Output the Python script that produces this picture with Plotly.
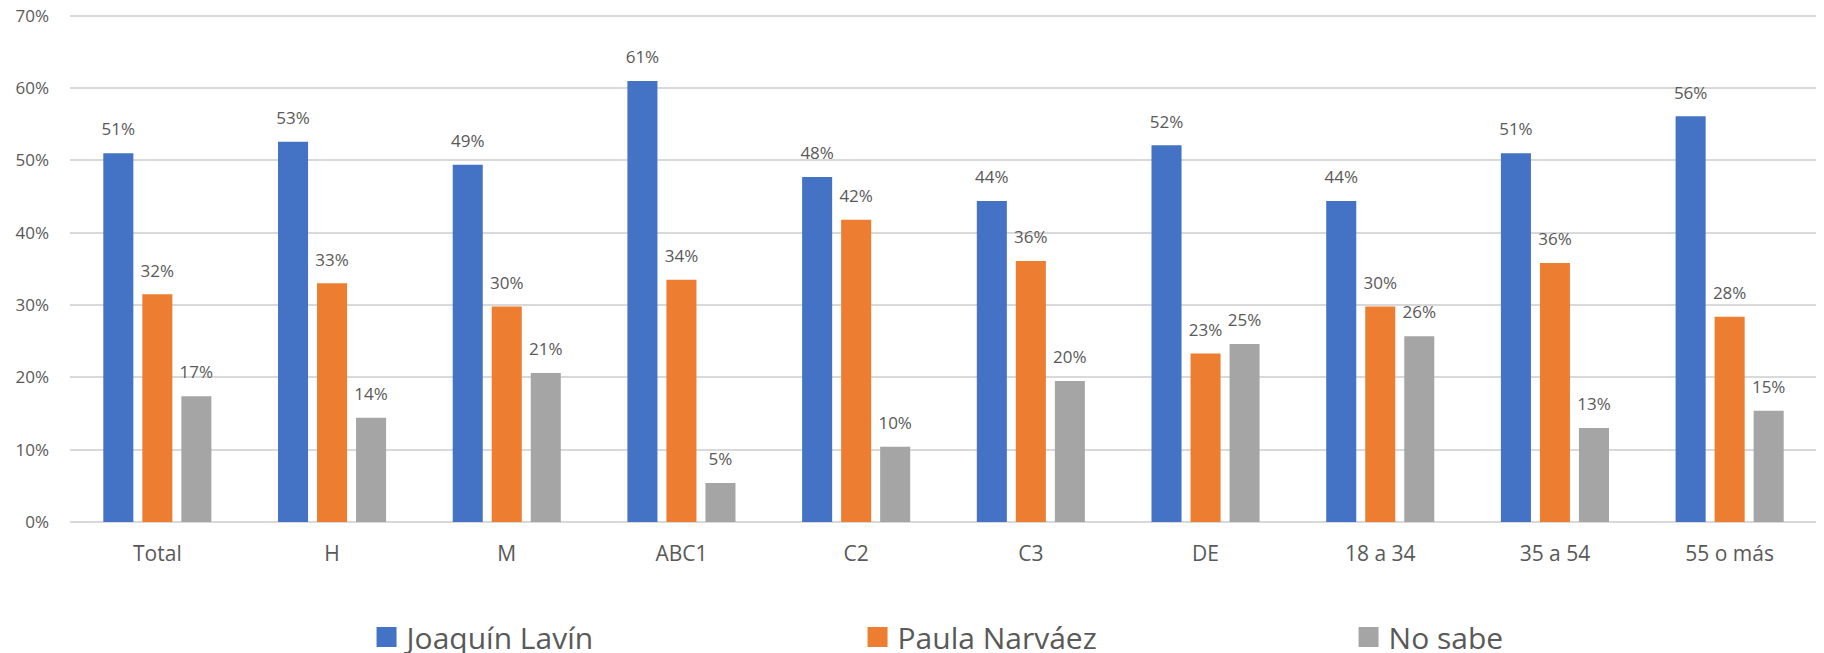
import plotly.graph_objects as go

# data
categories = ["Total", "H", "M", "ABC1", "C2", "C3", "DE", "18 a 34", "35 a 54", "55 o más"]
lavin = [51.0, 52.6, 49.4, 61.0, 47.7, 44.4, 52.1, 44.4, 51.0, 56.1]
narvaez = [31.5, 33.0, 29.8, 33.5, 41.8, 36.1, 23.3, 29.8, 35.8, 28.4]
no_sabe = [17.4, 14.4, 20.6, 5.4, 10.4, 19.5, 24.6, 25.7, 13.0, 15.4]

series_names = ["Joaquín Lavín", "Paula Narváez", "No sabe"]
colors = ["#4472C4", "#ED7D31", "#A5A5A5"]
text_col = "#595959"

fig = go.Figure()
for name, vals, col in zip(series_names, [lavin, narvaez, no_sabe], colors):
    fig.add_trace(go.Bar(
        x=categories, y=vals, name=name, showlegend=False,
        marker=dict(color=col, line=dict(width=0)),
        # small blank second line lifts the label off the bar top
        texttemplate="<span style='font-size:17px'>%{y:.0f}%</span><br> ",
        textposition="outside", constraintext="none",
        textfont=dict(size=9, color=text_col),
        cliponaxis=False,
    ))

# legend entries with bigger square swatches
for name, col in zip(series_names, colors):
    fig.add_trace(go.Scatter(
        x=[None], y=[None], mode="markers", name=name,
        marker=dict(symbol="square", size=15, color=col, line=dict(color=col, width=5)),
    ))

fig.update_layout(
    width=1816, height=645,
    margin=dict(l=62, r=7, t=6, b=131),
    paper_bgcolor="white", plot_bgcolor="white",
    font=dict(family="'Open Sans', 'Noto Sans', sans-serif", color=text_col, size=17),
    barmode="group", bargap=0.33, bargroupgap=0.23,
    legend=dict(
        orientation="h", xref="container", yref="container",
        x=0.6030, y=0.025, xanchor="center", yanchor="middle",
        font=dict(size=30, color=text_col),
        entrywidth=446, entrywidthmode="pixels",
        itemsizing="trace", itemclick=False,
    ),
    xaxis=dict(showgrid=False, showline=False, ticks="", ticklabelstandoff=17,
               automargin=False, tickfont=dict(size=21)),
    # top a hair above 70 so the 70% gridline is not clipped at the edge
    yaxis=dict(range=[0, 70.25], tick0=0, dtick=10,
               ticksuffix="%", showgrid=True, automargin=False,
               gridcolor="#D9D9D9", gridwidth=1.5, zeroline=True,
               zerolinecolor="#D9D9D9", zerolinewidth=1.5,
               ticklabeloverflow="allow",
               ticklabelstandoff=20, tickfont=dict(size=17)),
)

fig.write_html("out.html")
